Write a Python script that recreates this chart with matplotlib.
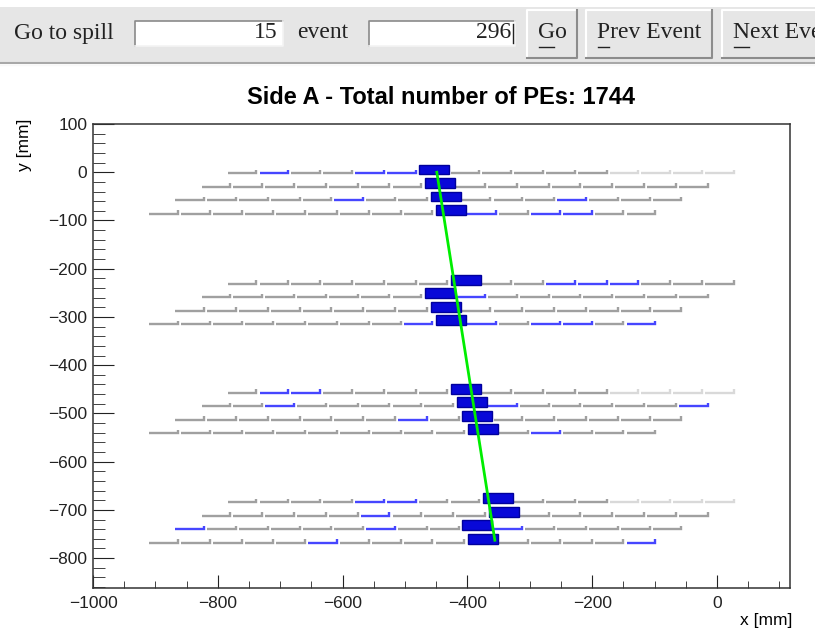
import matplotlib.pyplot as plt
from matplotlib.patches import Rectangle
from matplotlib.lines import Line2D
from matplotlib.ticker import MultipleLocator

W, H = 815, 634

spill = 15
event = 296
total_pe = 1744

# geometry of the scintillator planes (mm)
module_top_y = [0, -229, -455, -682]
layer_dy = [0, -28, -56, -84]
layer_x0 = [-784, -826, -868, -910]
strip_pitch = 51
n_strips = 16

# one string per layer, one char per strip:
# g = no hit, f = masked channel, b = small hit, D = large hit
strip_states = [
    "gbggbbDgggggffff",
    "gggggggDgggggggg",
    "gggggbggDgggbggg",
    "gggggggggDbgbbgg",
    "gggggggDggbbbggg",
    "gggggggDbggggggg",
    "ggggggggDggggggg",
    "ggggggggbDbgbbgb",
    "gbbggggDggggffff",
    "ggbgggggDbgggggb",
    "gggggggbgDgggggg",
    "ggggggggggDgbggg",
    "ggggbbggDgggffff",
    "gggggbgggDgggggg",
    "bgggggbggDbggggg",
    "gggggbggggDggggb",
]

# fitted track
track_x = [-449, -356]
track_y = [0, -763]

line_colors = {"g": "#a0a0a0", "f": "#d9d9d9", "b": "#4646ff"}

fig = plt.figure(figsize=(W / 100, H / 100), dpi=100)
fig.patch.set_facecolor("white")
renderer = fig.canvas.get_renderer()

GUI_FONT = dict(family="Liberation Serif", fontsize=17, color="#222222")


def px_rect(x0, y0, x1, y1, **kw):
    fig.add_artist(Rectangle((x0 / W, 1 - y1 / H), (x1 - x0) / W, (y1 - y0) / H,
                             transform=fig.transFigure, **kw))


def px_line(xs, ys, **kw):
    fig.add_artist(Line2D([x / W for x in xs], [1 - y / H for y in ys],
                          transform=fig.transFigure, **kw))


def px_text(x, y, s, **kw):
    return fig.text(x / W, 1 - y / H, s, va="center", **GUI_FONT, **kw)


def sunken(x0, y0, x1, y1):
    px_rect(x0, y0, x1, y1, facecolor="white", edgecolor="none")
    px_line([x0, x0, x1], [y1, y0, y0], color="#8a8a8a", lw=1.2)
    px_line([x0, x1, x1], [y1, y1, y0], color="#f4f4f4", lw=1.2)


def button(x0, y0, x1, y1, label):
    px_rect(x0, y0, x1, y1, facecolor="#e6e6e6", edgecolor="none")
    px_line([x0, x0, x1], [y1, y0, y0], color="white", lw=1.5)
    px_line([x0, x1, x1], [y1, y1, y0], color="#8c8c8c", lw=1.5)
    t = px_text(x0 + 11, 33, label, ha="left")
    # underline the hot-key letter
    bb = t.get_window_extent(renderer)
    probe = px_text(0, 0, label[0], ha="left")
    w = probe.get_window_extent(renderer).width
    probe.remove()
    px_line([bb.x0 + 1, bb.x0 + w - 1], [47, 47], color="#222222", lw=1)


# toolbar
px_rect(0, 7, W, 62, facecolor="#e6e6e6", edgecolor="none")
px_line([0, W], [62.5, 62.5], color="#a8a8a8", lw=1.5)
px_line([0, W], [64.5, 64.5], color="#f8f8f8", lw=1)
px_text(14, 33, "Go to spill", ha="left")
sunken(135, 21, 283, 46)
px_text(278, 33, str(spill), ha="right")
px_text(297, 33, "event", ha="left")
sunken(369, 21, 515, 46)
px_text(511, 33, str(event), ha="right")
px_line([513, 513], [24, 43], color="#222222", lw=1)
button(527, 10, 577, 58, "Go")
button(586, 10, 712, 58, "Prev Event")
button(722, 10, 850, 58, "Next Event")

# event display
ax = fig.add_axes([93 / W, 1 - 588 / H, (790 - 93) / W, (588 - 124) / H])
ax.set_xlim(-1000, 117)
ax.set_ylim(-862, 100)

for i, states in enumerate(strip_states):
    y = module_top_y[i // 4] + layer_dy[i % 4] - 2
    for k, s in enumerate(states):
        x0 = layer_x0[i % 4] + k * strip_pitch
        if s == "D":
            ax.add_patch(Rectangle((x0 + 1, y - 2), strip_pitch - 3, 20,
                                   facecolor="#0808d8", edgecolor="#00009c",
                                   lw=1, zorder=3))
        else:
            x1 = x0 + strip_pitch - 5
            ax.plot([x0, x1, x1], [y, y, y + 7], color=line_colors[s],
                    lw=1.7, solid_joinstyle="miter", solid_capstyle="butt",
                    zorder=2)

ax.plot(track_x, track_y, color="#00ee00", lw=2, zorder=4)

fig.text(441 / W, 1 - 97 / H, f"Side A - Total number of PEs: {total_pe}",
         family="Liberation Sans", fontweight="bold", fontsize=17,
         ha="center", va="center")

ax.xaxis.set_major_locator(MultipleLocator(200))
ax.xaxis.set_minor_locator(MultipleLocator(50))
ax.yaxis.set_major_locator(MultipleLocator(100))
ax.yaxis.set_minor_locator(MultipleLocator(20))
ax.tick_params(axis="both", which="both", direction="in", top=False,
               right=False, colors="#222222", labelsize=12.5)
ax.tick_params(axis="y", which="major", length=15, pad=4)
ax.tick_params(axis="y", which="minor", length=8.5)
ax.tick_params(axis="x", which="major", length=9.5, pad=6)
ax.tick_params(axis="x", which="minor", length=5)
for lab in ax.get_xticklabels() + ax.get_yticklabels():
    lab.set_family("Liberation Sans")
for sp in ax.spines.values():
    sp.set_color("#333333")
    sp.set_linewidth(1.1)

fig.text(792 / W, 1 - 620 / H, "x [mm]", family="Liberation Sans",
         fontsize=12.5, ha="right", va="center")
fig.text(24 / W, 1 - 119 / H, "y [mm]", family="Liberation Sans",
         fontsize=12.5, ha="center", va="top", rotation=90)

fig.savefig("out.png", dpi=100)
